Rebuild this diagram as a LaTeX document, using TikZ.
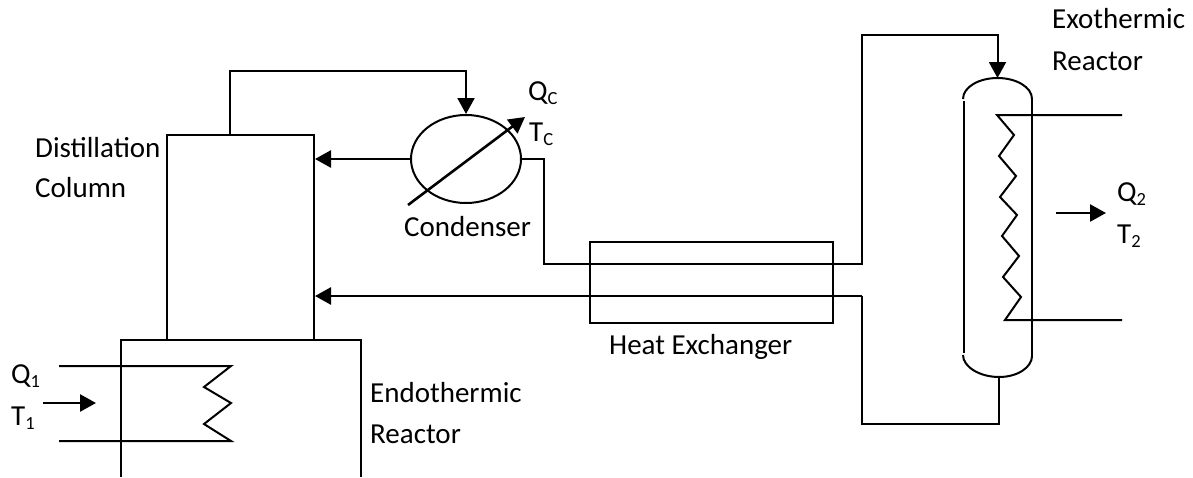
\documentclass[tikz,border=0pt]{standalone}
\usepackage{fontspec}
\setmainfont{Carlito}
\usepackage{tikz}
\usetikzlibrary{arrows.meta,positioning,shapes.geometric,calc}
\newcommand{\lowsub}[1]{\raisebox{-4.5pt}{\fontsize{18.5}{20}\selectfont #1}}
\tikzset{
  pipe/.style={line width=2pt,line join=miter},
  flow/.style={line width=2.6pt,-{Triangle[length=16pt,width=17pt]}},
  unit/.style={draw,line width=2pt,inner sep=0pt},
  lbl/.style={inner sep=0pt,font=\fontsize{29}{34}\selectfont,anchor=base west}
}
\begin{document}
\begin{tikzpicture}[x=1pt,y=-1pt]
  \useasboundingbox (0,0) rectangle (1193,477);
  \node[unit,minimum width=147pt,minimum height=205pt] (column) at (240.5,237.5) {};
  \node[unit,ellipse,minimum width=110pt,minimum height=88pt] (condenser) at (466,159) {};
  \node[unit,minimum width=243pt,minimum height=81pt] (exchanger) at (711.5,282.5) {};
  \coordinate (vesseltop) at (997.5,78);
  \coordinate (vesselbot) at (999,377);
  \coordinate (columnleft) at (230,135);
  \coordinate (tubein) at (544,159);
  \coordinate (tubeback) at (862,296);

  \draw[pipe] (121,477) -- (121,339.5) -- (361,339.5) -- (361,477);
  \draw[pipe] (964,101) -- (964,353);
  \draw[pipe] (1032,99) -- (1032,356);
  \draw[pipe] (963,99) .. controls (963,87) and (979,78) .. (vesseltop) .. controls (1016,78) and (1032,87) .. (1032,99);
  \draw[pipe] (963,355) .. controls (963,367) and (980,377) .. (vesselbot) .. controls (1018,377) and (1032,367) .. (1032,356);

  \draw[pipe,-{Triangle[length=16pt,width=17pt]}] (columnleft) -- ++(0,-64) -| (condenser.north);
  \draw[flow] (condenser.west) -- (column.east |- condenser.west);
  \draw[flow] (408,205) -- (525,117);
  \draw[pipe,-{Triangle[length=16pt,width=17pt]}] (condenser.east) -- (tubein) -- ++(0,105) -- ++(318,0) -- ++(0,-229) -| (vesseltop);
  \draw[pipe] (vesselbot) -- ++(0,47) -| (tubeback);
  \draw[flow] (tubeback) -- (column.east |- tubeback);

  \draw[pipe] (59,366) -- (231,366) -- (204,387) -- (231,403) -- (204,424) -- (231,441) -- (59,441);
  \draw[flow] (43,403) -- (96,403);
  \draw[pipe] (1122,115) -- (997,115) -- (1014,135) -- (999,156) -- (1016,176) -- (1000,197) -- (1017,215) -- (1002,236) -- (1019,256) -- (1003,277) -- (1021,297) -- (1005,320) -- (1122,320);
  \draw[flow] (1056,213) -- (1106,213);

  \node[lbl] (distlabel) at (35,157) {Distillation};
  \node[lbl] (columnlabel) at (35,197) {Column};
  \node[lbl] (condlabel) at (404,236) {Condenser};
  \node[lbl] (qclabel) at (528,100) {Q\lowsub{C}};
  \node[lbl] (tclabel) at (529,141) {T\lowsub{C}};
  \node[lbl] (hxlabel) at (609,354) {Heat Exchanger};
  \node[lbl] (endolabel) at (370,402) {Endothermic};
  \node[lbl] (endolabelb) at (370,443) {Reactor};
  \node[lbl] (exolabel) at (1052,28) {Exothermic};
  \node[lbl] (exolabelb) at (1052,70) {Reactor};
  \node[lbl] (qonelabel) at (11,383) {Q\lowsub{1}};
  \node[lbl] (tonelabel) at (11,425) {T\lowsub{1}};
  \node[lbl] (qtwolabel) at (1117,201) {Q\lowsub{2}};
  \node[lbl] (ttwolabel) at (1117,243) {T\lowsub{2}};
\end{tikzpicture}
\end{document}
